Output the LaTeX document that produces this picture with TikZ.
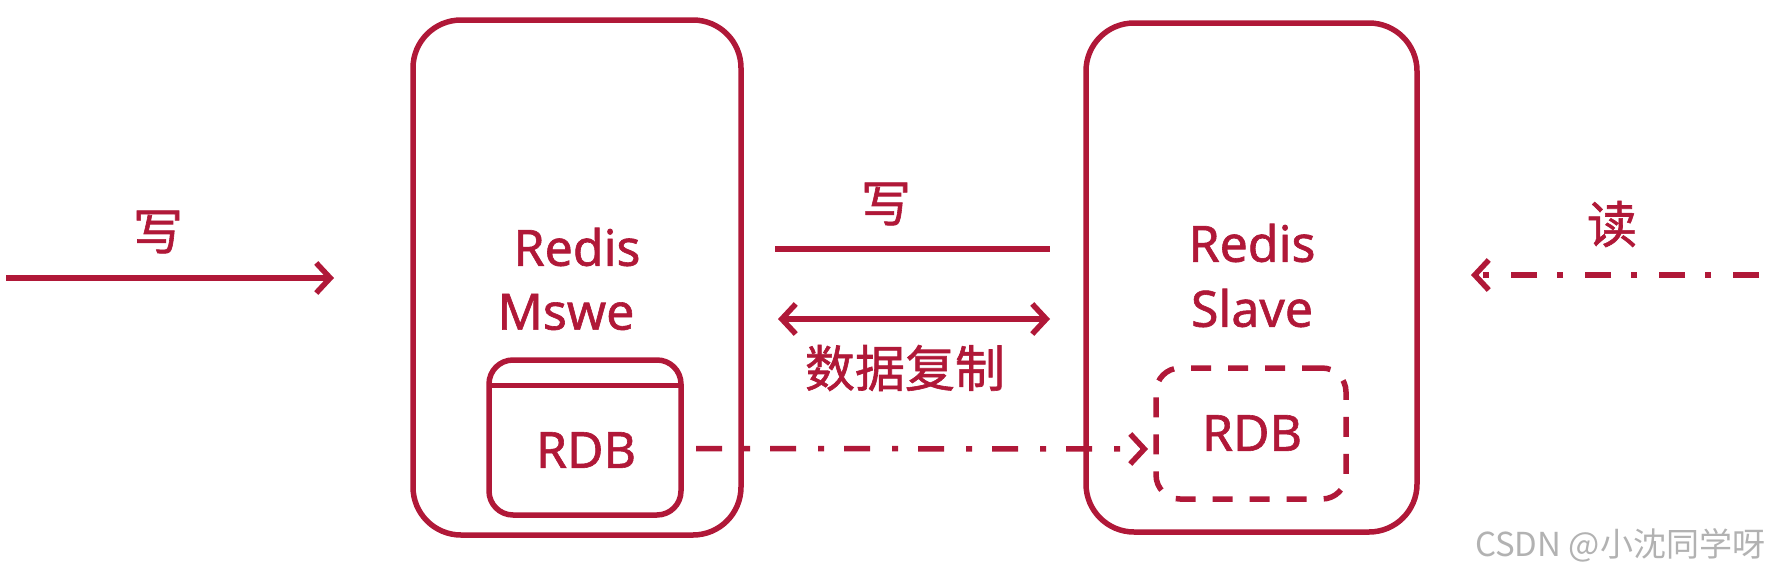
\documentclass[tikz,border=0pt]{standalone}
\usepackage{fontspec}
\setmainfont[FakeBold=1.2, AutoFakeBold=1.2]{Noto Sans}
\newfontfamily\cjk[FakeBold=1.2, AutoFakeBold=1.2]{Noto Sans CJK SC}
\newfontfamily\cjkthin{Noto Sans CJK SC}
\usetikzlibrary{arrows.meta}
\definecolor{rc}{RGB}{176,24,56}
\tikzset{
  every node/.style={inner sep=0pt, outer sep=0pt},
  bigbox/.style={draw=rc, line width=5.5pt, rounded corners=48pt},
  rdbbox/.style={draw=rc, line width=5.5pt, rounded corners=24pt},
  lbl/.style={text=rc, font=\bfseries\fontsize{50}{56}\selectfont, align=center},
  cjklbl/.style={text=rc, font=\cjk\bfseries\fontsize{50}{56}\selectfont},
  conn/.style={draw=rc, line width=5.5pt},
  tip/.style={-{Straight Barb[length=14pt, width=30pt, line width=5.5pt]}},
  dashdot/.style={dash pattern=on 26pt off 22pt on 6pt off 20pt},
}
\begin{document}
\begin{tikzpicture}[x=1pt, y=-1pt]
\useasboundingbox (0,0) rectangle (1774,576);
% boxes
\node[bigbox, minimum width=328pt, minimum height=515pt] (master) at (577,277.5) {};
\node[bigbox, minimum width=331pt, minimum height=509pt] (slave) at (1251.5,277.5) {};
\node[rdbbox, minimum width=192pt, minimum height=155pt] (mrdb) at (585,437.5) {};
\node[rdbbox, dash pattern=on 20pt off 17pt, minimum width=190pt, minimum height=131pt] (srdb) at (1251,433.5) {};
\draw[conn, line width=5pt] ([yshift=-25pt]mrdb.north west) -- ([yshift=-25pt]mrdb.north east);
% texts
\node[lbl] (mredis) at (577,247) {Redis};
\node[lbl] (mname) at (566,312) {Mswe};
\node[lbl] (mrdbt) at (586,450) {RDB};
\node[lbl] (sredis) at (1252,243) {Redis};
\node[lbl] (sname) at (1252,308) {Slave};
\node[lbl] (srdbt) at (1252,433) {RDB};
\node[cjklbl] (w1) at (158,232) {写};
\node[cjklbl] (w2) at (886,204) {写};
\node[cjklbl] (copy) at (905,368) {数据复制};
\node[cjklbl] (rd) at (1612,224) {读};
\node[text=black!30, font=\cjkthin\fontsize{33}{38}\selectfont] (wm) at (1620,545) {CSDN @小沈同学呀};
% connectors
\coordinate (a1) at (6,278);
\coordinate (a2) at (334,278);
\draw[conn, tip] (a1) -- (a2);
\coordinate (b1) at (775,249);
\coordinate (b2) at (1050,249);
\draw[conn] (b1) -- (b2);
\coordinate (c1) at (778,319);
\coordinate (c2) at (1050,319);
\draw[conn, {Straight Barb[length=14pt, width=30pt, line width=5.5pt]}-{Straight Barb[length=14pt, width=30pt, line width=5.5pt]}] (c1) -- (c2);
\coordinate (d1) at (1759,275);
\coordinate (d2) at (1471,275);
\draw[conn, tip, dashdot] (d1) -- (d2);
\draw[conn, tip, dashdot, shorten <=15pt, shorten >=8pt] ([yshift=-11pt]mrdb.east) -- ([yshift=-15.5pt]srdb.west);
\end{tikzpicture}
\end{document}
